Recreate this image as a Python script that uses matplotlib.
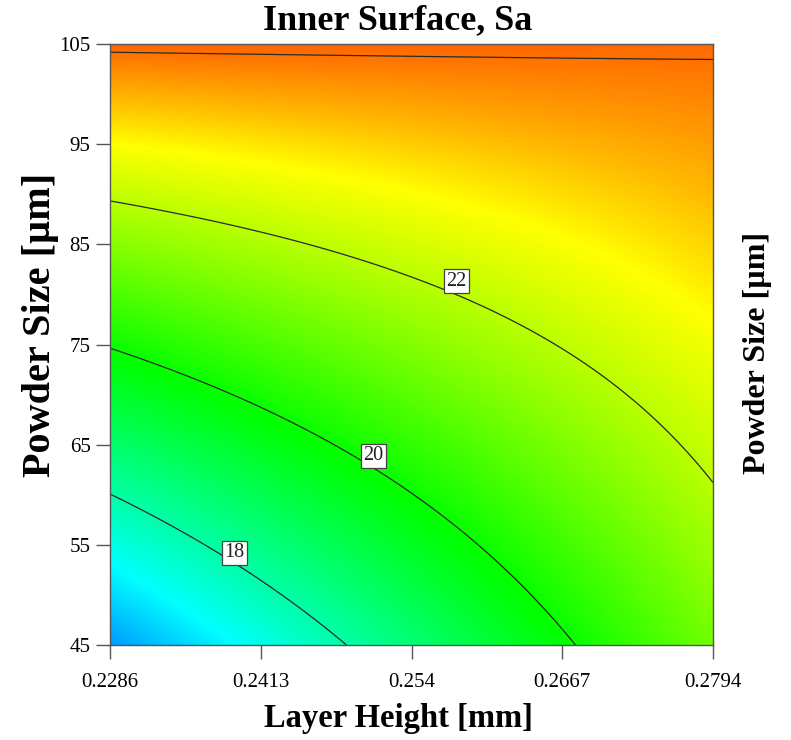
import numpy as np
import matplotlib
matplotlib.use("Agg")
import matplotlib.pyplot as plt
from matplotlib.colors import LinearSegmentedColormap

# Factor ranges
layer_height_range = [0.2286, 0.2794]   # mm
powder_size_range = [45, 105]           # µm

# Quadratic response-surface coefficients for Sa (coded factors A, B in [-1, 1])
coef_intercept = 21.38
coef_A = 1.31
coef_B = 2.77
coef_AB = -1.33
coef_AA = -0.02
coef_BB = -0.04

contour_levels = [18, 20, 22, 24]
labelled_levels = [18, 20, 22]
label_positions = [(0.2391, 54.2), (0.2508, 63.9), (0.2578, 81.3)]

x_ticks = [0.2286, 0.2413, 0.254, 0.2667, 0.2794]
x_tick_labels = ["0.2286", "0.2413", "0.254", "0.2667", "0.2794"]
y_ticks = [45, 55, 65, 75, 85, 95, 105]

# Colour stops (response value -> colour)
color_values = [14.2, 17.0, 19.9, 22.8, 25.0]
color_names = ["#0000FF", "#00FFFF", "#00FF00", "#FFFF00", "#FF0000"]

plt.rcParams["font.family"] = ["Liberation Serif", "DejaVu Serif"]

x = np.linspace(*layer_height_range, 400)
y = np.linspace(*powder_size_range, 400)
X, Y = np.meshgrid(x, y)
A = (X - np.mean(layer_height_range)) / (np.diff(layer_height_range)[0] / 2)
B = (Y - np.mean(powder_size_range)) / (np.diff(powder_size_range)[0] / 2)
Z = (coef_intercept + coef_A * A + coef_B * B + coef_AB * A * B
     + coef_AA * A ** 2 + coef_BB * B ** 2)

vmin, vmax = color_values[0], color_values[-1]
stops = [(v - vmin) / (vmax - vmin) for v in color_values]
cmap = LinearSegmentedColormap.from_list("de", list(zip(stops, color_names)))

fig = plt.figure(figsize=(7.91, 7.40), dpi=100)
ax = fig.add_axes([110 / 791, 95 / 740, 603 / 791, 601 / 740])

ax.imshow(Z, origin="lower", aspect="auto", cmap=cmap,
          vmin=vmin, vmax=vmax, interpolation="bilinear",
          extent=[*layer_height_range, *powder_size_range])
cs = ax.contour(X, Y, Z, levels=contour_levels, colors="#2a2a2a",
                linewidths=0.9)
lbls = ax.clabel(cs, levels=labelled_levels, manual=label_positions,
                 inline=False, fmt="%d", fontsize=14.5)
# place each value box just above its line, upright
for t, pos in zip(sorted(lbls, key=lambda t: float(t.get_text())),
                  label_positions):
    t.set_position(pos)
    t.set_rotation(0)
    t.set_color("#222222")
    t.set_bbox(dict(boxstyle="square,pad=0.12", fc="white",
                    ec="#444444", lw=0.9))

ax.set_xlim(*layer_height_range)
ax.set_ylim(*powder_size_range)
ax.set_xticks(x_ticks)
ax.set_xticklabels(x_tick_labels)
ax.set_yticks(y_ticks)
ax.tick_params(direction="out", length=10, width=1, color="#555555",
               labelsize=15)
ax.tick_params(axis="x", pad=10)
ax.tick_params(axis="y", pad=4)
for s in ax.spines.values():
    s.set_color("#555555")
    s.set_linewidth(1.0)

fig.text(398 / 791, (740 - 21) / 740, "Inner Surface, Sa", fontsize=26,
         fontweight="bold", ha="center", va="center")
fig.text(398 / 791, (740 - 718) / 740, "Layer Height [mm]", fontsize=23.5,
         fontweight="bold", ha="center", va="center")
fig.text(41 / 791, (740 - 325) / 740, "Powder Size [µm]", rotation=90,
         fontsize=29, fontweight="bold", ha="center", va="center")
fig.text(757 / 791, (740 - 353) / 740, "Powder Size [µm]", rotation=90,
         fontsize=23, fontweight="bold", ha="center", va="center")

fig.savefig("out.png", dpi=100)
